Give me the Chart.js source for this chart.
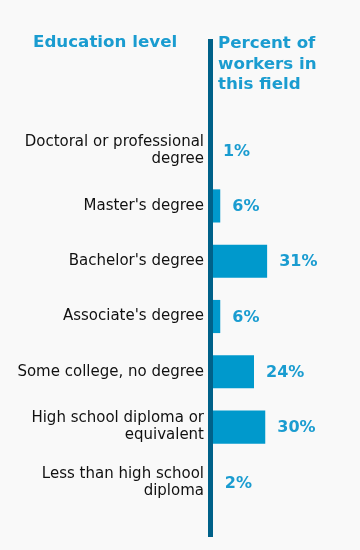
<!DOCTYPE html>
<html>
<head>
    <title>Education level of workers</title>
    <style>
        body {
            margin: 0;
            padding: 0;
            background-color: #f9f9f9;
        }

        #chart-container {
            width: 360px;
            height: 550px;
        }
    </style>
</head>
<body>
    <div id="chart-container">
        <canvas id="edu-chart"></canvas>
    </div>

    <script src="https://cdn.jsdelivr.net/npm/chart.js"></script>
    <script>
        // categories (multi-line labels) and shares in percent
        const categories = [
            ['Doctoral or professional', 'degree'],
            "Master's degree",
            "Bachelor's degree",
            "Associate's degree",
            'Some college, no degree',
            ['High school diploma or', 'equivalent'],
            ['Less than high school', 'diploma']
        ];
        const percents = [1, 6, 31, 6, 24, 30, 2];

        const leftTitle = 'Education level';
        const rightTitle = ['Percent of', 'workers in', 'this field'];

        const blue = '#0099cc';
        const textBlue = '#1a9cd0';
        const axisBlue = '#006189';

        // axis line, titles and value labels
        const decorations = {
            id: 'decorations',
            afterDatasetsDraw(chart) {
                const ctx = chart.ctx;
                const area = chart.chartArea;
                const meta = chart.getDatasetMeta(0);

                ctx.save();
                ctx.fillStyle = axisBlue;
                ctx.fillRect(area.left - 1, 39, 5, 498);

                ctx.fillStyle = textBlue;
                ctx.font = 'bold 16.7px "DejaVu Sans", Verdana, sans-serif';
                ctx.textBaseline = 'alphabetic';
                ctx.textAlign = 'left';
                ctx.fillText(leftTitle, 33, 47);
                rightTitle.forEach((line, i) => {
                    ctx.fillText(line, 218, 48 + i * 20.5);
                });

                ctx.font = 'bold 16px "DejaVu Sans", Verdana, sans-serif';
                ctx.textBaseline = 'middle';
                meta.data.forEach((bar, i) => {
                    ctx.fillText(percents[i] + '%', bar.x + 12, bar.y + 1);
                });
                ctx.restore();
            }
        };

        const ctx = document.getElementById('edu-chart').getContext('2d');
        const chart = new Chart(ctx, {
            type: 'bar',
            data: {
                labels: categories,
                datasets: [{
                    data: percents,
                    backgroundColor: blue,
                    borderWidth: 0,
                    barPercentage: 0.6,
                    categoryPercentage: 1
                }]
            },
            options: {
                indexAxis: 'y',
                responsive: true,
                maintainAspectRatio: false,
                animation: false,
                layout: {
                    padding: { top: 123, bottom: 40, left: 0, right: 1 }
                },
                plugins: {
                    legend: { display: false },
                    tooltip: { enabled: false }
                },
                scales: {
                    x: {
                        display: false,
                        min: 0,
                        max: 80
                    },
                    y: {
                        afterFit(scale) { scale.width = 209; },
                        grid: { display: false, drawTicks: false },
                        border: { display: false },
                        ticks: {
                            padding: 5,
                            color: '#111111',
                            font: { family: '"DejaVu Sans", Verdana, sans-serif', size: 15, lineHeight: 17 / 15 }
                        }
                    }
                }
            },
            plugins: [decorations]
        });
    </script>
</body>
</html>
